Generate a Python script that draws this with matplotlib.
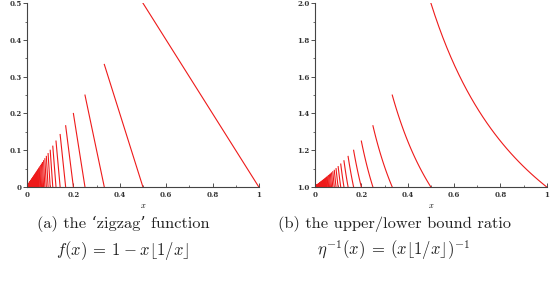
import numpy as np
import matplotlib.pyplot as plt

# denominators n of the pieces 1/(n+1) < x <= 1/n
n_pieces = list(range(1, 400))

# axis settings
left_yticks = [0, 0.1, 0.2, 0.3, 0.4, 0.5]
left_ylabels = ['0', '0.1', '0.2', '0.3', '0.4', '0.5']
right_yticks = [1.0, 1.2, 1.4, 1.6, 1.8, 2.0]
right_ylabels = ['1.0', '1.2', '1.4', '1.6', '1.8', '2.0']
xticks = [0, 0.2, 0.4, 0.6, 0.8, 1]
xtick_labels = ['0', '0.2', '0.4', '0.6', '0.8', '1']

captions = ["(a) the ‘zigzag’ function",
            "(b) the upper/lower bound ratio"]
formulas = [r"$f(x)\:=\:1\:-\:x\lfloor 1/x\rfloor$",
            r"$\eta^{-1}(x)\:=\:(x\lfloor 1/x\rfloor)^{-1}$"]

plt.rcParams['mathtext.fontset'] = 'cm'
plt.rcParams['axes.unicode_minus'] = False

def zigzag(x, n):
    return 1 - x * n

def ratio(x, n):
    return 1 / (x * n)

fig = plt.figure(figsize=(5.56, 2.83), dpi=100)
ax1 = fig.add_axes([0.0486, 0.339, 0.417, 0.650])
ax2 = fig.add_axes([0.5665, 0.339, 0.417, 0.650])

for ax, func in [(ax1, zigzag), (ax2, ratio)]:
    for n in n_pieces:
        xs = np.linspace(1 / (n + 1), 1 / n, 30)
        ax.plot(xs, func(xs, n), color='#ee1a1a', lw=0.8)

ax1.set_ylim(0, 0.5)
ax1.set_yticks(left_yticks)
ax1.set_yticklabels(left_ylabels)
ax1.set_yticks(np.arange(0.05, 0.5, 0.1), minor=True)
ax2.set_ylim(1.0, 2.0)
ax2.set_yticks(right_yticks)
ax2.set_yticklabels(right_ylabels)
ax2.set_yticks(np.arange(1.1, 2.0, 0.2), minor=True)

for ax in [ax1, ax2]:
    ax.set_xlim(0, 1)
    ax.set_xticks(xticks)
    ax.set_xticklabels(xtick_labels)
    ax.set_xticks(np.arange(0.1, 1.0, 0.2), minor=True)
    for s in ['top', 'right']:
        ax.spines[s].set_visible(False)
    for s in ['left', 'bottom']:
        ax.spines[s].set_linewidth(0.8)
        ax.spines[s].set_color('#444444')
    ax.tick_params(axis='y', which='major', direction='out', length=3, width=0.6,
                   labelsize=5, pad=1, colors='#333333')
    ax.tick_params(axis='y', which='minor', direction='out', length=1.5, width=0.5, colors='#333333')
    ax.tick_params(axis='x', which='major', direction='in', length=3, width=0.6,
                   labelsize=5, pad=3, colors='#333333')
    ax.tick_params(axis='x', which='minor', direction='in', length=1.5, width=0.5, colors='#333333')
    for lab in ax.get_xticklabels() + ax.get_yticklabels():
        lab.set_family('DejaVu Serif')
        lab.set_fontweight('bold')
    ax.set_xlabel('$x$', fontsize=6, labelpad=1)

# captions under each panel
for cx, cap, form in zip([123 / 556, 394 / 556], captions, formulas):
    fig.text(cx, 1 - 224 / 283, cap, ha='center', va='center', fontsize=11.8,
             family=['cmr10', 'DejaVu Serif'], color='#222222')
    fig.text(cx, 1 - 250 / 283, form, ha='center', va='center', fontsize=12,
             color='#222222')

fig.savefig('out.png', dpi=100)
